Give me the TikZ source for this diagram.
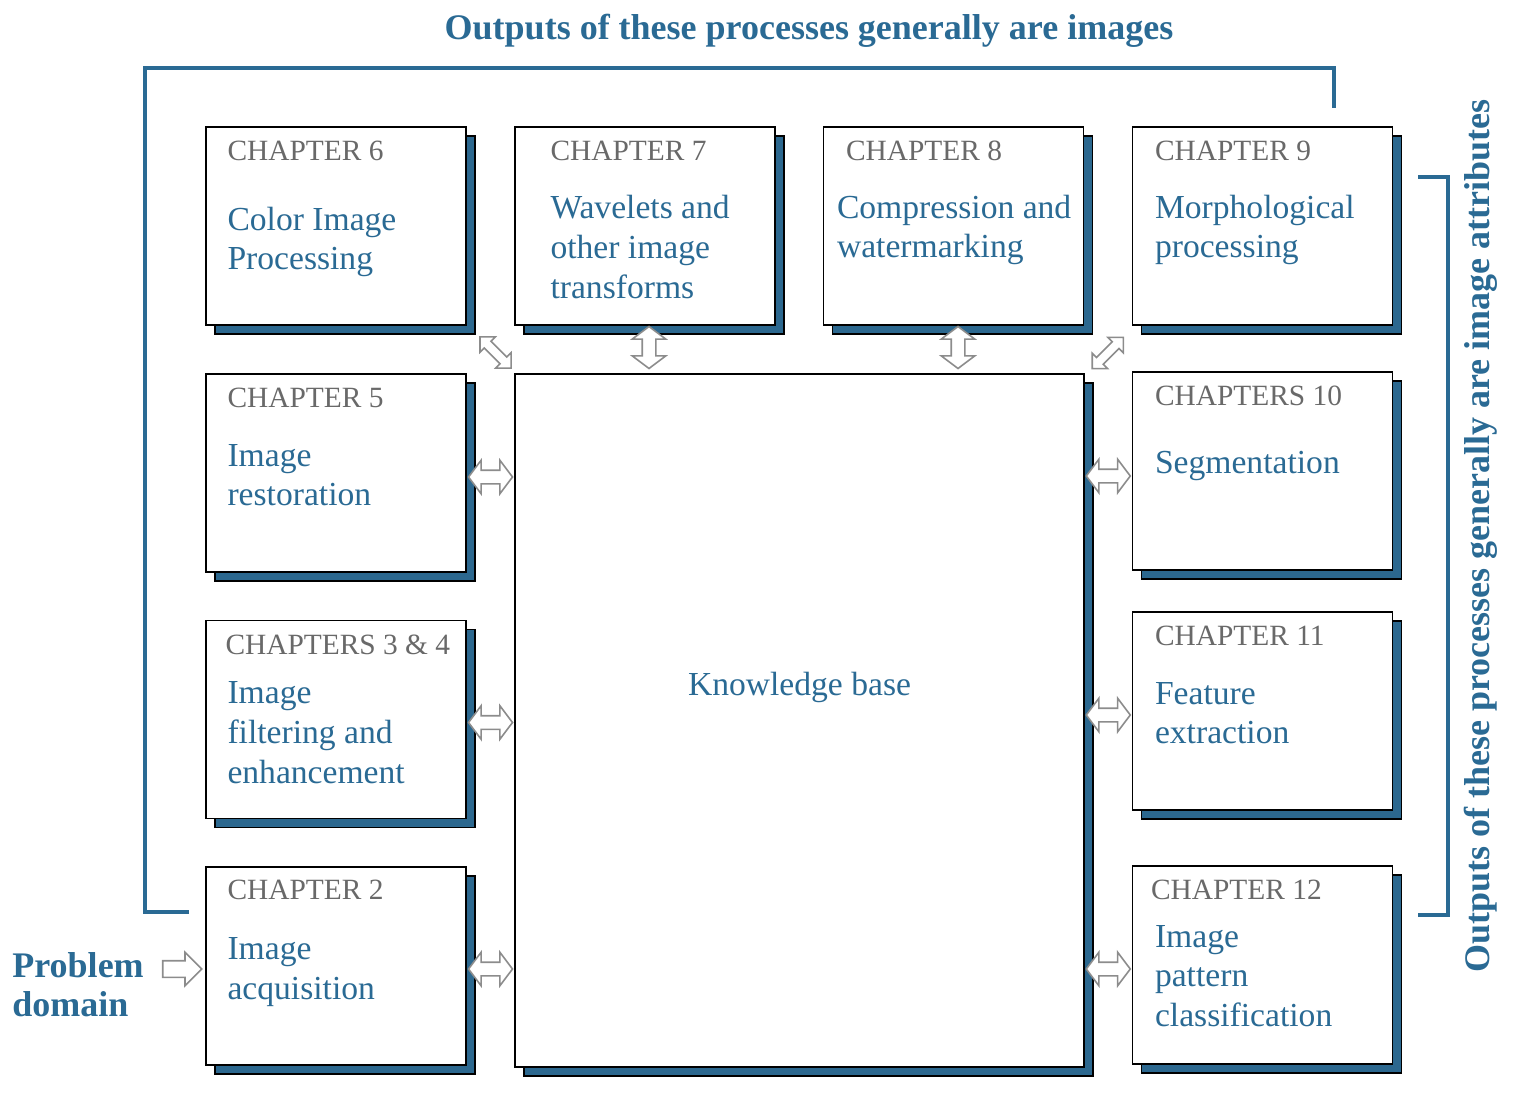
\documentclass[tikz,border=0pt]{standalone}
\usepackage{fontspec}
\setmainfont{Liberation Serif}
\usetikzlibrary{positioning, calc, shapes.arrows, shadows}
\usepackage{xcolor}
\definecolor{titleblue}{RGB}{42,106,148}
\definecolor{shadeblue}{RGB}{44,104,143}
\definecolor{labelgray}{RGB}{105,105,105}
\definecolor{arrowgray}{RGB}{140,140,140}

\begin{document}
\begin{tikzpicture}[x=0.5pt, y=-0.5pt]
        % Definitions
        \def\boxW{130pt}
        \def\boxH{99pt}

        % Styles
        \tikzstyle{chbox} = [draw=black, line width=0.9pt, fill=white, minimum width=\boxW, minimum height=\boxH, inner sep=0pt, drop shadow={shadow xshift=4.5pt, shadow yshift=-4.5pt, fill=shadeblue, draw=black, line width=0.7pt, opacity=1}]
        \tikzstyle{chlabel} = [anchor=west, inner sep=0pt, text=labelgray, font=\fontsize{14.7}{17}\selectfont]
        \tikzstyle{chtext} = [anchor=west, inner sep=0pt, align=left, text=titleblue, font=\fontsize{16.8}{19.8}\selectfont]
        \tikzstyle{title} = [inner sep=0pt, text=titleblue, font=\fontsize{18}{19.5}\selectfont\bfseries]
        \tikzstyle{link} = [double arrow, draw=arrowgray, line width=0.8pt, fill=white, inner sep=3pt, minimum height=22pt, minimum width=16pt, double arrow head extend=5pt, double arrow tip angle=106]
        \tikzstyle{diaglink} = [link, inner sep=2pt, minimum width=10pt, double arrow head extend=3pt, double arrow tip angle=90]
        \tikzstyle{bracket} = [draw=titleblue, line width=2pt]

        \useasboundingbox (0,0) rectangle (1536,1112);

        % Chapter boxes
        \node[chbox] (ch6) at (336,226) {};
        \node[chbox] (ch7) at (645,226) {};
        \node[chbox] (ch8) at (953.5,226) {};
        \node[chbox] (ch9) at (1262.5,226) {};
        \node[chbox] (ch5) at (336,473) {};
        \node[chbox] (ch34) at (336,719.5) {};
        \node[chbox] (ch2) at (336,966) {};
        \node[chbox] (ch10) at (1262.5,471) {};
        \node[chbox] (ch11) at (1262.5,711) {};
        \node[chbox] (ch12) at (1262.5,965) {};
        \node[chbox, minimum width=284.5pt, minimum height=346.5pt] (kb) at (799.5,720.5) {};

        % Box texts
        \node[chlabel] at ([shift={(22,25)}]ch6.north west) {CHAPTER 6};
        \node[chtext] at ([shift={(22,116)}]ch6.north west) {Color Image\\Processing};
        \node[chlabel] at ([shift={(36,25)}]ch7.north west) {CHAPTER 7};
        \node[chtext] at ([shift={(36,121)}]ch7.north west) {Wavelets and\\other image\\transforms};
        \node[chlabel] at ([shift={(23,25)}]ch8.north west) {CHAPTER 8};
        \node[chtext] at ([shift={(14,104)}]ch8.north west) {Compression and\\watermarking};
        \node[chlabel] at ([shift={(23,25)}]ch9.north west) {CHAPTER 9};
        \node[chtext] at ([shift={(23,104)}]ch9.north west) {Morphological\\processing};
        \node[chlabel] at ([shift={(22,25)}]ch5.north west) {CHAPTER 5};
        \node[chtext] at ([shift={(22,102)}]ch5.north west) {Image\\restoration};
        \node[chlabel] at ([shift={(20,25)}]ch34.north west) {CHAPTERS 3 \& 4};
        \node[chtext] at ([shift={(22,113)}]ch34.north west) {Image\\filtering and\\enhancement};
        \node[chlabel] at ([shift={(22,24)}]ch2.north west) {CHAPTER 2};
        \node[chtext] at ([shift={(22,106)}]ch2.north west) {Image\\acquisition};
        \node[chlabel] at ([shift={(23,25)}]ch10.north west) {CHAPTERS 10};
        \node[chtext] at ([shift={(23,95)}]ch10.north west) {Segmentation};
        \node[chlabel] at ([shift={(23,25)}]ch11.north west) {CHAPTER 11};
        \node[chtext] at ([shift={(23,102)}]ch11.north west) {Feature\\extraction};
        \node[chlabel] at ([shift={(19,25)}]ch12.north west) {CHAPTER 12};
        \node[chtext] at ([shift={(23,111)}]ch12.north west) {Image\\pattern\\classification};
        \node[chtext, anchor=center] (kbtext) at ([yshift=16.5pt]kb.center) {Knowledge base};

        % Links to the knowledge base
        \node[link] (l5) at ($(ch5.east)!.5!(ch5.east -| kb.west) + (0,4)$) {};
        \node[link] (l34) at ($(ch34.east)!.5!(ch34.east -| kb.west) + (0,3)$) {};
        \node[link] (l2) at ($(ch2.east)!.5!(ch2.east -| kb.west) + (0,3)$) {};
        \node[link] (l10) at ($(ch10.west)!.5!(ch10.west -| kb.east) + (0,5)$) {};
        \node[link] (l11) at ($(ch11.west)!.5!(ch11.west -| kb.east) + (0,4)$) {};
        \node[link] (l12) at ($(ch12.west)!.5!(ch12.west -| kb.east) + (0,4)$) {};
        \node[link, rotate=90, minimum height=21pt] (l7) at ($(ch7.south)!.5!(ch7.south |- kb.north) + (4,-2)$) {};
        \node[link, rotate=90, minimum height=21pt] (l8) at ($(ch8.south)!.5!(ch8.south |- kb.north) + (4.5,-2)$) {};
        \node[diaglink, rotate=-45] (l6) at ($(ch6.south east)!.5!(kb.north west) + (5,3)$) {};
        \node[diaglink, rotate=45] (l9) at ($(kb.north east)!.5!(ch9.south west) + (-0.5,3.5)$) {};

        % Problem domain
        \node[title, anchor=west, align=left] (domain) at (12,985) {Problem\\domain};
        \node[single arrow, draw=arrowgray, line width=0.8pt, fill=white, inner sep=3.75pt, minimum height=19.5pt, single arrow head extend=4.25pt] (in) at ($(ch2.west) + (-27,3)$) {};

        % Brackets and captions
        \draw[bracket] (189,912) -| (145,68) -| (1334,108);
        \draw[bracket] (1418,177) -| (1448,915) -- (1418,915);
        \node[title] (top) at (809,31) {Outputs of these processes generally are images};
        \node[title, rotate=90] (side) at (1481,536) {Outputs of these processes generally are image attributes};

    \end{tikzpicture}
\end{document}
